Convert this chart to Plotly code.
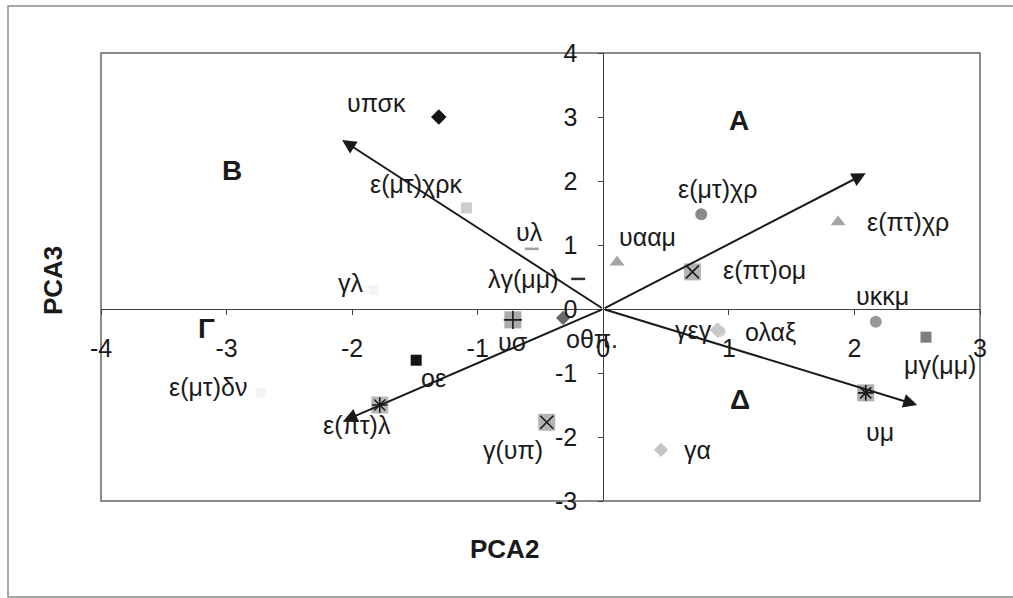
import plotly.graph_objects as go

# Sample scores on the second and third principal components
names = ["υπσκ", "ε(μτ)χρκ", "υλ", "λγ(μμ)", "υααμ", "ε(μτ)χρ", "ε(πτ)χρ",
         "ε(πτ)ομ", "υκκμ", "μγ(μμ)", "υμ", "γα", "ολαξ", "γεγ", "οθπ.",
         "υσ", "οε", "ε(πτ)λ", "ε(μτ)δν", "γλ", "γ(υπ)"]
pca2 = [-1.31, -1.09, -0.57, -0.20, 0.11, 0.78, 1.87,
        0.71, 2.17, 2.57, 2.09, 0.46, 0.93, 0.91, -0.32,
        -0.72, -1.49, -1.78, -2.73, -1.83, -0.45]
pca3 = [3.00, 1.58, 0.94, 0.47, 0.73, 1.48, 1.36,
        0.58, -0.20, -0.44, -1.31, -2.20, -0.35, -0.33, -0.14,
        -0.17, -0.80, -1.50, -1.31, 0.30, -1.77]

# Direction vectors drawn from the origin
vec_pca2 = [-2.08, 2.09, 2.50, -2.07]
vec_pca3 = [2.64, 2.12, -1.50, -1.75]

# Quadrant names
quad_text = ["A", "B", "Γ", "Δ"]
quad_pca2 = [1.08, -2.96, -3.16, 1.09]
quad_pca3 = [2.95, 2.17, -0.30, -1.42]

x_ticks = [-4, -3, -2, -1, 0, 1, 2, 3]
y_ticks = [-3, -2, -1, 0, 1, 2, 3, 4]

# marker style per sample: (symbol, fill, size, overlay glyph)
style = {
    "υπσκ": ("diamond", "#141414", 12, None),
    "ε(μτ)χρκ": ("square", "#cdcdcd", 11, None),
    "υλ": ("line-ew", "#a0a0a0", 10, None),
    "λγ(μμ)": ("line-ew", "#303030", 10, None),
    "υααμ": ("triangle-up", "#a4a4a4", 13, None),
    "ε(μτ)χρ": ("circle", "#8a8a8a", 12, None),
    "ε(πτ)χρ": ("triangle-up", "#a4a4a4", 13, None),
    "ε(πτ)ομ": ("square", "#b4b4b4", 17, "x-thin"),
    "υκκμ": ("circle", "#999999", 12, None),
    "μγ(μμ)": ("square", "#7e7e7e", 11, None),
    "υμ": ("square", "#b0b0b0", 17, "asterisk"),
    "γα": ("diamond", "#c4c4c4", 11, None),
    "ολαξ": ("circle", "#d4d4d4", 11, None),
    "γεγ": ("diamond", "#c8c8c8", 12, None),
    "οθπ.": ("diamond", "#6a6a6a", 11, None),
    "υσ": ("square", "#ababab", 17, "cross-thin"),
    "οε": ("square", "#141414", 11, None),
    "ε(πτ)λ": ("square", "#b8b8b8", 17, "asterisk"),
    "ε(μτ)δν": ("square", "#f3f3f3", 10, None),
    "γλ": ("square", "#f3f3f3", 10, None),
    "γ(υπ)": ("square", "#b4b4b4", 17, "x-thin"),
}

# label offset from its marker, in pixels (dx right, dy down)
label_offset = {
    "υπσκ": (-62, -14), "ε(μτ)χρκ": (-50, -24), "υλ": (-2, -17),
    "λγ(μμ)": (-55, 0), "υααμ": (30, -25), "ε(μτ)χρ": (16, -25),
    "ε(πτ)χρ": (70, 0), "ε(πτ)ομ": (72, -2), "υκκμ": (7, -26),
    "μγ(μμ)": (14, 28), "υμ": (14, 39), "γα": (36, 0),
    "ολαξ": (50, 1), "γεγ": (-24, 0), "οθπ.": (29, 21),
    "υσ": (0, 22), "οε": (17, 18), "ε(πτ)λ": (-23, 20),
    "ε(μτ)δν": (-52, -6), "γλ": (-22, -7), "γ(υπ)": (-34, 28),
}

FONT = "Liberation Sans, Arial, sans-serif"
LABEL_SIZE = 25
TICK_SIZE = 25

fig = go.Figure()

line_symbols = {"line-ew", "x-thin", "asterisk", "cross-thin"}
symbols = [style[n][0] for n in names]
fills = [style[n][1] for n in names]
sizes = [style[n][2] for n in names]
fig.add_trace(go.Scatter(
    x=pca2, y=pca3, mode="markers", hoverinfo="text", text=names,
    marker=dict(
        symbol=symbols, color=fills, size=sizes, opacity=1,
        line=dict(color=[f if s in line_symbols else "rgba(0,0,0,0)" for s, f in zip(symbols, fills)],
                  width=[2.5 if s in line_symbols else 0 for s in symbols]),
    ),
    showlegend=False,
))

# dark glyphs drawn on top of the grey squares
gx, gy, gs = [], [], []
for n, x, y in zip(names, pca2, pca3):
    glyph = style[n][3]
    if glyph:
        gx.append(x)
        gy.append(y)
        gs.append(glyph)
fig.add_trace(go.Scatter(
    x=gx, y=gy, mode="markers", hoverinfo="skip",
    marker=dict(symbol=gs, size=13, color="#1a1a1a", opacity=1,
                line=dict(color="#1a1a1a", width=1.6)),
    showlegend=False,
))

annotations = []
for n, x, y in zip(names, pca2, pca3):
    dx, dy = label_offset[n]
    annotations.append(dict(
        x=x, y=y, xref="x", yref="y", text=n, showarrow=False,
        xanchor="center", yanchor="middle",
        xshift=dx, yshift=-dy, font=dict(family=FONT, size=LABEL_SIZE, color="#1a1a1a"),
    ))

for vx, vy in zip(vec_pca2, vec_pca3):
    annotations.append(dict(
        x=vx, y=vy, ax=0, ay=0, xref="x", yref="y", axref="x", ayref="y",
        text="", showarrow=True, arrowhead=2, arrowsize=1.4, arrowwidth=2,
        arrowcolor="#1a1a1a",
    ))

for t, x, y in zip(quad_text, quad_pca2, quad_pca3):
    annotations.append(dict(
        x=x, y=y, xref="x", yref="y", text="<b>%s</b>" % t, showarrow=False,
        xanchor="center", yanchor="middle",
        font=dict(family=FONT, size=28, color="#1a1a1a"),
    ))

annotations.append(dict(
    x=0.4585, y=-0.107, xref="paper", yref="paper", text="<b>PCA2</b>",
    xanchor="center", yanchor="middle",
    showarrow=False, font=dict(family=FONT, size=26, color="#1a1a1a"),
))
annotations.append(dict(
    x=-0.0546, y=0.491, xref="paper", yref="paper", text="<b>PCA3</b>",
    xanchor="center", yanchor="middle",
    showarrow=False, textangle=-90, font=dict(family=FONT, size=26, color="#1a1a1a"),
))

shapes = [
    # plot area frame
    dict(type="rect", xref="paper", yref="paper", x0=0, x1=1, y0=0, y1=1,
         line=dict(color="#666666", width=1.5), layer="below"),
    # chart area frame
    dict(type="rect", xref="paper", yref="paper", x0=-0.1058, x1=1.045,
         y0=-0.2143, y1=1.105, line=dict(color="#8c8c8c", width=1.5), layer="below"),
]

x_pos = (0 - (-3)) / 7.0
y_pos = (0 - (-4)) / 7.0

fig.update_layout(
    width=1013, height=598,
    margin=dict(l=101, r=33, t=53, b=97),
    paper_bgcolor="white", plot_bgcolor="white",
    font=dict(family=FONT, size=LABEL_SIZE, color="#1a1a1a"),
    xaxis=dict(range=[-4, 3], tickvals=x_ticks, ticktext=[str(v) for v in x_ticks],
               showgrid=False, zeroline=False, showline=True, linecolor="#404040",
               linewidth=1, ticks="outside", ticklen=5, tickcolor="#404040",
               anchor="free", position=x_pos, ticklabelstandoff=12,
               tickfont=dict(family=FONT, size=TICK_SIZE, color="#1a1a1a")),
    yaxis=dict(range=[-3, 4], tickvals=y_ticks, ticktext=[str(v) for v in y_ticks],
               showgrid=False, zeroline=False, showline=True, linecolor="#404040",
               linewidth=1, ticks="outside", ticklen=5, tickcolor="#404040",
               anchor="free", position=y_pos, ticklabelstandoff=16,
               tickfont=dict(family=FONT, size=TICK_SIZE, color="#1a1a1a")),
    annotations=annotations,
    shapes=shapes,
)

fig.write_html("out.html")
